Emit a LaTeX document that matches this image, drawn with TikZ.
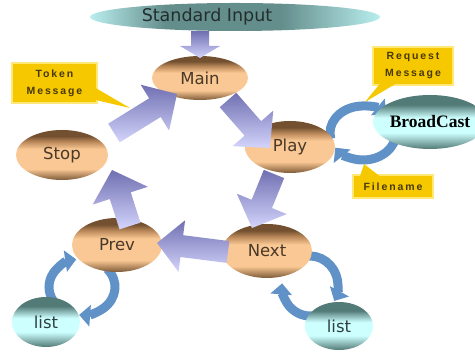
\documentclass[tikz,border=0pt]{standalone}
\usepackage{fontspec}
\setmainfont{DejaVu Sans}
\newfontfamily\calloutfont[LetterSpace=18]{Liberation Sans}
\newfontfamily\castfont{Liberation Serif}
\usetikzlibrary{shapes.geometric,arrows.meta,calc}

% palette
\definecolor{tanDark}{RGB}{115,80,48}
\definecolor{tanMid}{RGB}{190,140,92}
\definecolor{tanLight}{RGB}{250,200,148}
\definecolor{tanBottom}{RGB}{125,90,55}
\definecolor{tealDark}{RGB}{82,122,118}
\definecolor{tealLight}{RGB}{205,255,255}
\definecolor{bannerDark}{RGB}{100,142,140}
\definecolor{bannerLight}{RGB}{185,238,238}
\definecolor{arrowDark}{RGB}{112,112,178}
\definecolor{arrowLight}{RGB}{212,212,252}
\definecolor{loopBlue}{RGB}{96,146,200}
\definecolor{noteFill}{RGB}{246,200,0}
\definecolor{noteEdge}{RGB}{255,232,120}
\definecolor{noteText}{RGB}{72,56,10}
\definecolor{labelText}{RGB}{72,56,40}
\definecolor{listText}{RGB}{48,64,64}

% rounded-looking fills for the state ellipses
\pgfdeclareverticalshading{tanShading}{100bp}{color(0bp)=(tanBottom); color(25bp)=(tanBottom); color(36bp)=(tanLight); color(56bp)=(tanLight); color(63bp)=(tanMid); color(69bp)=(tanDark); color(100bp)=(tanDark)}
\pgfdeclareverticalshading{tealShading}{100bp}{color(0bp)=(tealDark); color(25bp)=(tealDark); color(40bp)=(tealLight); color(54bp)=(tealLight); color(66bp)=(tealDark); color(100bp)=(tealDark)}
\pgfdeclarehorizontalshading{bannerShading}{100bp}{color(0bp)=(white); color(25bp)=(bannerLight); color(38bp)=(bannerDark); color(58bp)=(bannerDark); color(75bp)=(bannerLight); color(100bp)=(white)}

% wide block arrow: tail, tip, shaft half width, head half width, head length
\newcommand\blockarrow[5]{%
  \coordinate (ba-neck) at ($(#2)!#5!(#1)$);
  \path[blockfill] ($(#1)!#3!90:(#2)$) -- ($(ba-neck)!#3!-90:(#1)$)
    -- ($(ba-neck)!#4!-90:(#1)$) -- (#2) -- ($(ba-neck)!#4!90:(#1)$)
    -- ($(ba-neck)!#3!90:(#1)$) -- ($(#1)!#3!-90:(#2)$) -- cycle;}

\begin{document}
\begin{tikzpicture}[x=1pt,y=1pt,
  tanball/.style={ellipse, inner sep=0pt, shade, shading=tanShading, text=labelText,
    font=\fontsize{16.5}{18}\selectfont},
  tealball/.style={ellipse, inner sep=0pt, shade, shading=tealShading, text=listText,
    font=\fontsize{16.5}{18}\selectfont},
  blockfill/.style={top color=arrowDark, bottom color=arrowLight},
  loop/.style={line width=9pt, draw=loopBlue, -{Triangle[length=11pt,width=21pt]}},
  note/.style={rectangle, fill=noteFill, draw=noteEdge, line width=1.2pt, inner sep=0pt,
    align=center, text=noteText, font=\calloutfont\bfseries\fontsize{10.5}{17}\selectfont}]
\useasboundingbox (0,0) rectangle (475,352);

% exchange loops (drawn first so the nodes hide their tails)
\coordinate (loopPB) at (363,219);
\coordinate (loopPL) at (82,65);
\coordinate (loopNL) at (310,66);
\draw[loop] ($(loopPB)+(192:33 and 27)$) arc[start angle=192, end angle=45, x radius=33, y radius=27];
\draw[loop] ($(loopPB)+(-10:33 and 27)$) arc[start angle=-10, end angle=-147, x radius=33, y radius=27];
\draw[loop] ($(loopPL)+(210:33 and 28)$) arc[start angle=210, end angle=100, x radius=33, y radius=28];
\draw[loop] ($(loopPL)+(40:33 and 28)$) arc[start angle=40, end angle=-95, x radius=33, y radius=28];
\draw[loop] ($(loopNL)+(100:28 and 30)$) arc[start angle=100, end angle=-30, x radius=28, y radius=30];
\draw[loop] ($(loopNL)+(-85:28 and 30)$) arc[start angle=-85, end angle=-185, x radius=28, y radius=30];

% input banner
\node[ellipse, minimum width=290pt, minimum height=28pt, inner sep=0pt, shade, shading=bannerShading] (banner) at (235,335) {};
\node[text={rgb,255:red,36;green,46;blue,46}, font=\fontsize{17.5}{20}\selectfont] (bannertext) at (207,335) {Standard Input};

% states
\node[tanball, minimum width=96pt, minimum height=44pt] (main) at (200,274) {Main};
\node[tanball, minimum width=92pt, minimum height=50pt] (stop) at (62,197) {Stop};
\node[tanball, minimum width=90pt, minimum height=52pt] (play) at (290,205) {Play};
\node[tanball, minimum width=90pt, minimum height=54pt] (next) at (267,101) {Next};
\node[tanball, minimum width=90pt, minimum height=54pt] (prev) at (117,107) {Prev};
\node[tealball, minimum width=68pt, minimum height=50pt] (listL) at (46,30) {list};
\node[tealball, minimum width=68pt, minimum height=48pt] (listR) at (339,26) {list};
\node[tealball, minimum width=90pt, minimum height=54pt, text=black,
  font=\castfont\bfseries\fontsize{17.5}{18}\selectfont] (bcast) at (430,230) {BroadCast};

% cycle of block arrows
\coordinate (in-a) at (main |- banner.south);
\coordinate (in-b) at ($(main)+(0,20)$);
\blockarrow{in-a}{in-b}{9pt}{20pt}{12pt}
\coordinate (sm-a) at ($(stop)+(52,22)$);
\coordinate (sm-b) at ($(main)+(-23,-16)$);
\blockarrow{sm-a}{sm-b}{11pt}{27pt}{26pt}
\coordinate (mp-a) at ($(main)+(28,-22)$);
\coordinate (mp-b) at ($(play)+(-20,-1)$);
\blockarrow{mp-a}{mp-b}{11pt}{27pt}{26pt}
\coordinate (pn-a) at ($(play)+(-16,-27)$);
\coordinate (pn-b) at ($(next)+(-15,23)$);
\blockarrow{pn-a}{pn-b}{11pt}{27pt}{26pt}
\coordinate (np-a) at ($(next)+(-39,-1)$);
\coordinate (np-b) at ($(prev)+(40,2)$);
\blockarrow{np-a}{np-b}{11pt}{26pt}{25pt}
\coordinate (ps-a) at ($(prev)+(13,19)$);
\coordinate (ps-b) at ($(stop)+(50,-15)$);
\blockarrow{ps-a}{ps-b}{11pt}{29pt}{27pt}

% callouts
\node[note, minimum width=85pt, minimum height=40pt] (token) at (54.5,269) {Token\\Message};
\coordinate (token-tip) at (130,244);
\fill[noteFill] ($(token.east)+(-2,-5)$) -- ($(token.east)+(-2,-17)$) -- (token-tip) -- cycle;
\node[note, minimum width=80pt, minimum height=38pt] (request) at (413,286) {Request\\Message};
\coordinate (request-tip) at (365,250);
\fill[noteFill] ($(request.south)+(-33,2)$) -- ($(request.south)+(-17,2)$) -- (request-tip) -- cycle;
\node[note, minimum width=80pt, minimum height=23pt] (filename) at (393,165.5) {Filename};
\coordinate (filename-tip) at (364,188);
\fill[noteFill] ($(filename.north)+(-33,-2)$) -- ($(filename.north)+(-13,-2)$) -- (filename-tip) -- cycle;
\end{tikzpicture}
\end{document}
